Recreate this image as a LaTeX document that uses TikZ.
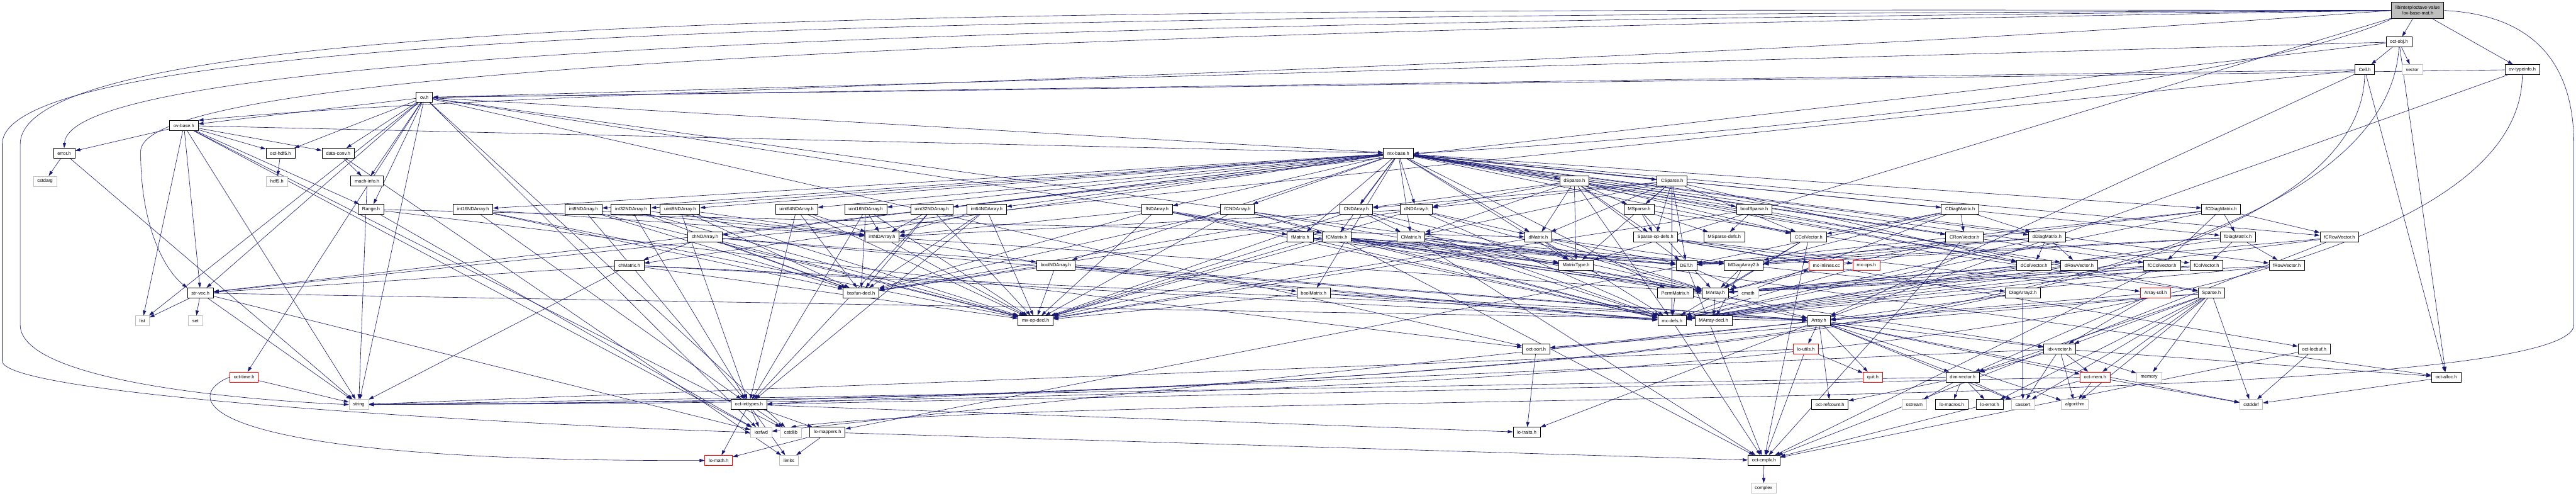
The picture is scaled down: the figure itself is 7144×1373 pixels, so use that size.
\documentclass[tikz,border=0pt]{standalone}
\usepackage{fontspec}
\setmainfont{Liberation Sans}
\usetikzlibrary{arrows.meta}
\definecolor{edgeblue}{RGB}{25,25,112}
\definecolor{sysgrey}{RGB}{191,191,191}
\pgfdeclarelayer{background}
\pgfsetlayers{background,main}
\newcommand\myedges[2]{\foreach \t in {#2} {\draw[dep] (#1) -- (\t);}}
\begin{document}
\begin{tikzpicture}[x=1pt,y=-1pt,
  every node/.style={font=\fontsize{13}{15}\selectfont},
  hdr/.style={draw=black,line width=1.5pt,fill=white,minimum height=28pt,inner xsep=11pt,inner ysep=2pt},
  sys/.style={hdr,draw=sysgrey,line width=1pt},
  trunc/.style={hdr,draw=red},
  dep/.style={draw=edgeblue,line width=1.1pt,-{Triangle[length=14pt,width=9pt]}}]
\useasboundingbox (0,0) rectangle (7144,1373);
% row 0
\node[hdr,fill=sysgrey,align=center,minimum height=46pt,inner ysep=3pt] (root) at (6705,29) {libinterp/octave-value\\/ov-base-mat.h};
% row 1
\node[hdr] (octobj) at (6653,116) {oct-obj.h};
% row 2
\node[hdr] (cell) at (6558,193) {Cell.h};
\node[sys] (vector) at (6690,193) {vector};
\node[hdr] (ovtypeinfo) at (6995,193) {ov-typeinfo.h};
% row 3
\node[hdr] (ovh) at (1177,270) {ov.h};
% row 4
\node[hdr] (ovbase) at (510,348) {ov-base.h};
% row 5
\node[hdr] (error) at (178,425) {error.h};
\node[hdr] (octhdf5) at (778,425) {oct-hdf5.h};
\node[hdr] (dataconv) at (938,425) {data-conv.h};
\node[hdr] (mxbase) at (3878,425) {mx-base.h};
% row 6
\node[sys] (cstdarg) at (125,502) {cstdarg};
\node[sys] (hdf5) at (768,502) {hdf5.h};
\node[hdr] (machinfo) at (1018,502) {mach-info.h};
\node[hdr] (dSparse) at (4366,502) {dSparse.h};
\node[hdr] (CSparse) at (4637,502) {CSparse.h};
% row 7
\node[hdr] (Range) at (1029,580) {Range.h};
\node[hdr] (i16) at (1312,580) {int16NDArray.h};
\node[hdr] (i8) at (1618,580) {int8NDArray.h};
\node[hdr] (i32) at (1750,580) {int32NDArray.h};
\node[hdr] (u8) at (1886,580) {uint8NDArray.h};
\node[hdr] (u64) at (2209,580) {uint64NDArray.h};
\node[hdr] (u16) at (2401,580) {uint16NDArray.h};
\node[hdr] (u32) at (2584,580) {uint32NDArray.h};
\node[hdr] (i64) at (2736,580) {int64NDArray.h};
\node[hdr] (fND) at (3209,580) {fNDArray.h};
\node[hdr] (fCND) at (3432,580) {fCNDArray.h};
\node[hdr] (CND) at (3761,580) {CNDArray.h};
\node[hdr] (dND) at (3928,580) {dNDArray.h};
\node[hdr] (MSparse) at (4546,580) {MSparse.h};
\node[hdr] (boolSparse) at (4865,580) {boolSparse.h};
\node[hdr] (CDiag) at (5436,580) {CDiagMatrix.h};
\node[hdr] (fCDiag) at (6160,580) {fCDiagMatrix.h};
% row 8
\node[hdr] (chND) at (1955,657) {chNDArray.h};
\node[hdr] (intND) at (2446,657) {intNDArray.h};
\node[hdr] (fMatrix) at (3606,657) {fMatrix.h};
\node[hdr] (fCMatrix) at (3707,657) {fCMatrix.h};
\node[hdr] (CMatrix) at (3913,657) {CMatrix.h};
\node[hdr] (dMatrix) at (4266,657) {dMatrix.h};
\node[hdr] (SpOpDefs) at (4591,657) {Sparse-op-defs.h};
\node[hdr] (MSpDefs) at (4782,657) {MSparse-defs.h};
\node[hdr] (CColV) at (5016,657) {CColVector.h};
\node[hdr] (CRowV) at (5448,657) {CRowVector.h};
\node[hdr] (dDiag) at (5677,657) {dDiagMatrix.h};
\node[hdr] (fDiag) at (6206,657) {fDiagMatrix.h};
\node[hdr] (fCRowV) at (6488,657) {fCRowVector.h};
% row 9
\node[hdr] (chMatrix) at (1745,735) {chMatrix.h};
\node[hdr] (boolND) at (2928,735) {boolNDArray.h};
\node[hdr] (MatrixType) at (4371,735) {MatrixType.h};
\node[hdr] (DET) at (4677,735) {DET.h};
\node[hdr] (MDiag2) at (4836,735) {MDiagArray2.h};
\node[trunc] (mxinl) at (5065,735) {mx-inlines.cc};
\node[trunc] (mxops) at (5176,735) {mx-ops.h};
\node[hdr] (dColV) at (5641,735) {dColVector.h};
\node[hdr] (dRowV) at (5766,735) {dRowVector.h};
\node[hdr] (fCColV) at (5996,735) {fCColVector.h};
\node[hdr] (fColV) at (6119,735) {fColVector.h};
\node[hdr] (fRowV) at (6342,735) {fRowVector.h};
% row 10
\node[hdr] (strvec) at (556,812) {str-vec.h};
\node[hdr] (bsxfun) at (2388,812) {bsxfun-decl.h};
\node[hdr] (boolMatrix) at (3643,812) {boolMatrix.h};
\node[hdr] (PermMatrix) at (4646,812) {PermMatrix.h};
\node[hdr] (MArray) at (4757,812) {MArray.h};
\node[sys] (cmath) at (4848,812) {cmath};
\node[hdr] (Diag2) at (5610,812) {DiagArray2.h};
\node[trunc] (ArrUtil) at (5978,812) {Array-util.h};
\node[hdr] (Sparse) at (6133,812) {Sparse.h};
% row 11
\node[sys] (list) at (395,889) {list};
\node[sys] (set) at (542,889) {set};
\node[hdr] (mxopdecl) at (2872,889) {mx-op-decl.h};
\node[hdr] (mxdefs) at (4637,889) {mx-defs.h};
\node[hdr] (MArrdecl) at (4752,889) {MArray-decl.h};
\node[hdr] (Array) at (5044,889) {Array.h};
% row 12
\node[hdr] (octsort) at (4260,967) {oct-sort.h};
\node[trunc] (loutils) at (5008,967) {lo-utils.h};
\node[hdr] (idxvec) at (5712,967) {idx-vector.h};
\node[hdr] (locbuf) at (6418,967) {oct-locbuf.h};
% row 13
\node[trunc] (octtime) at (677,1045) {oct-time.h};
\node[trunc] (quit) at (5194,1045) {quit.h};
\node[hdr] (dimvec) at (5443,1045) {dim-vector.h};
\node[trunc] (octmem) at (5810,1045) {oct-mem.h};
\node[sys] (memory) at (5960,1045) {memory};
\node[hdr] (octalloc) at (6784,1045) {oct-alloc.h};
% row 14
\node[sys] (string) at (995,1121) {string};
\node[hdr] (inttypes) at (2077,1121) {oct-inttypes.h};
\node[hdr] (refcount) at (5075,1121) {oct-refcount.h};
\node[sys] (sstream) at (5309,1121) {sstream};
\node[hdr] (lomacros) at (5413,1121) {lo-macros.h};
\node[hdr] (loerror) at (5518,1121) {lo-error.h};
\node[sys] (cassert) at (5610,1121) {cassert};
\node[sys] (algorithm) at (5754,1121) {algorithm};
\node[sys] (cstddef) at (6243,1121) {cstddef};
% row 15
\node[sys] (iosfwd) at (2111,1198) {iosfwd};
\node[sys] (cstdlib) at (2193,1198) {cstdlib};
\node[hdr] (lomappers) at (2295,1198) {lo-mappers.h};
\node[hdr] (lotraits) at (4234,1198) {lo-traits.h};
% row 16
\node[trunc] (lomath) at (1993,1276) {lo-math.h};
\node[sys] (limits) at (2188,1276) {limits};
\node[hdr] (octcmplx) at (4892,1276) {oct-cmplx.h};
% row 17
\node[sys] (complex) at (4891,1353) {complex};

\begin{pgfonlayer}{background}
% special routes from the root
\draw[dep] (root.west) .. controls (3000,60) and (195,130) .. (error.north);
\draw[dep] (root.west) .. controls (2500,95) and (390,200) .. (390,420) .. controls (390,650) and (470,760) .. (strvec.north west);
\draw[dep] (root.west) .. controls (3000,25) and (56,15) .. (56,400) -- (56,900) .. controls (56,1060) and (700,1110) .. (string.west);
\draw[dep] (root.west) .. controls (3000,45) and (6,60) .. (6,400) -- (6,1000) .. controls (6,1100) and (1500,1180) .. (iosfwd.west);
\draw[dep] (root.east) .. controls (7000,40) and (7138,150) .. (7138,400) -- (7138,900) .. controls (7138,1150) and (3000,1080) .. (cstdlib.north);
\draw[dep] (root.west) .. controls (4200,210) and (1500,240) .. (ovbase.north east);
\draw[dep] (root.south west) .. controls (6200,250) and (4600,390) .. (mxbase.east);
\draw[dep] (octobj.south) .. controls (6600,1000) and (3500,1110) .. (string.east);
\draw[dep] (cell.south) .. controls (6540,1000) and (3500,1105) .. (string.east);
\draw[dep] (ovtypeinfo.south) .. controls (6990,1050) and (3500,1115) .. (string.east);
\draw[dep] (octtime.west) .. controls (500,1100) and (520,1280) .. (lomath.west);
\myedges{root}{octobj,ovtypeinfo,MatrixType}
\myedges{octobj}{vector,cell,octalloc,ovh,strvec}
\myedges{cell}{ovh,strvec,Array,octalloc}
\myedges{ovtypeinfo}{ovh,Array}
\myedges{ovh}{ovbase,list,Range,dataconv,idxvec,machinfo,mxbase,octalloc,octtime,strvec,octhdf5,octsort,iosfwd,cstdlib,string}
\myedges{ovbase}{error,octhdf5,dataconv,Range,mxbase,strvec,list,iosfwd,cstdlib,string}
\myedges{error}{cstdarg,string}
\myedges{octhdf5}{hdf5}
\myedges{dataconv}{machinfo,limits}
\myedges{machinfo}{string}
\myedges{Range}{iosfwd,dMatrix,octsort}
\myedges{strvec}{list,set,Array,iosfwd,string}
\myedges{octtime}{string}
\myedges{mxbase}{MatrixType,boolMatrix,chMatrix,dMatrix,CMatrix,fMatrix,fCMatrix,dColV,CColV,fColV,fCColV,dRowV,CRowV,fRowV,fCRowV,dDiag,CDiag,fDiag,fCDiag,PermMatrix,boolSparse,CSparse,dSparse,boolND,chND,dND,CND,fND,fCND,i8,i16,i32,i64,u8,u16,u32,u64}
\myedges{dSparse}{dMatrix,dND,CMatrix,CND,dColV,CColV,MSparse,MatrixType,SpOpDefs,DET,mxdefs}
\myedges{CSparse}{CMatrix,dMatrix,CND,dND,CColV,dColV,MSparse,MatrixType,SpOpDefs,DET,mxdefs}
\foreach \s in {i16,i8,i32,u8,u64,u16,u32,i64} {\myedges{\s}{intND,mxopdecl,inttypes,bsxfun}}
\myedges{fND}{fMatrix,intND,MArray,mxdefs,mxopdecl,bsxfun}
\myedges{fCND}{fCMatrix,MArray,mxdefs,mxopdecl,bsxfun}
\myedges{CND}{CMatrix,MArray,mxdefs,mxopdecl,bsxfun}
\myedges{dND}{dMatrix,intND,MArray,mxdefs,mxopdecl,bsxfun}
\myedges{MSparse}{MArray,Sparse,MSpDefs,SpOpDefs}
\myedges{boolSparse}{Sparse,MSpDefs,mxopdecl}
\myedges{CDiag}{CColV,CRowV,dDiag,DET,MDiag2,mxdefs}
\myedges{fCDiag}{fCColV,fCRowV,fDiag,DET,MDiag2,mxdefs}
\myedges{chND}{chMatrix,Array,mxdefs,mxopdecl,bsxfun}
\myedges{intND}{MArray,boolND,mxopdecl}
\myedges{fMatrix}{MArray,MDiag2,MatrixType,mxdefs,mxopdecl,DET}
\myedges{fCMatrix}{MArray,MDiag2,MatrixType,mxdefs,mxopdecl,DET,octcmplx}
\myedges{CMatrix}{MArray,MDiag2,MatrixType,mxdefs,mxopdecl,DET,octcmplx}
\myedges{dMatrix}{MArray,MDiag2,MatrixType,mxdefs,mxopdecl,DET}
\myedges{SpOpDefs}{ArrUtil,mxinl,mxops,locbuf}
\myedges{CColV}{MArray,mxdefs,octcmplx}
\myedges{CRowV}{MArray,mxdefs,octcmplx}
\myedges{dDiag}{MDiag2,dRowV,dColV,DET,mxdefs}
\myedges{fDiag}{MDiag2,fRowV,fColV,DET,mxdefs}
\myedges{fCRowV}{MArray,mxdefs,octcmplx}
\myedges{chMatrix}{strvec,Array,mxdefs,mxopdecl,string}
\myedges{boolND}{boolMatrix,Array,mxdefs,mxopdecl,bsxfun}
\myedges{DET}{cmath,lomappers,octcmplx}
\myedges{MDiag2}{MArray,Diag2,MArrdecl}
\myedges{dColV}{MArray,mxdefs}
\myedges{dRowV}{MArray,mxdefs}
\myedges{fCColV}{MArray,mxdefs,octcmplx}
\myedges{fColV}{MArray,mxdefs}
\myedges{fRowV}{MArray,mxdefs}
\myedges{boolMatrix}{mxopdecl,mxdefs,Array}
\myedges{PermMatrix}{Array,mxdefs}
\myedges{MArray}{Array,MArrdecl,mxinl}
\myedges{Diag2}{Array,cassert}
\myedges{ArrUtil}{Array,idxvec,dimvec}
\myedges{Sparse}{Array,cassert,cstddef,algorithm,dimvec,idxvec,loerror,octsort,octmem,memory}
\myedges{mxdefs}{octcmplx}
\myedges{Array}{cassert,cstddef,algorithm,dimvec,idxvec,lotraits,loutils,octsort,quit,octmem,refcount,iosfwd}
\myedges{octsort}{lotraits}
\myedges{loutils}{quit,octcmplx,string}
\myedges{idxvec}{cassert,algorithm,dimvec,octmem,memory,inttypes,octalloc}
\myedges{locbuf}{cstddef,octcmplx}
\myedges{dimvec}{cassert,sstream,loerror,lomacros,refcount,string}
\myedges{octmem}{cstddef,algorithm,octcmplx,inttypes}
\myedges{octalloc}{cstddef}
\myedges{inttypes}{iosfwd,cstdlib,limits,lomappers,lomath,lotraits}
\myedges{lomappers}{lomath,limits,octcmplx}
\myedges{octcmplx}{complex}
\end{pgfonlayer}
\end{tikzpicture}
\end{document}
